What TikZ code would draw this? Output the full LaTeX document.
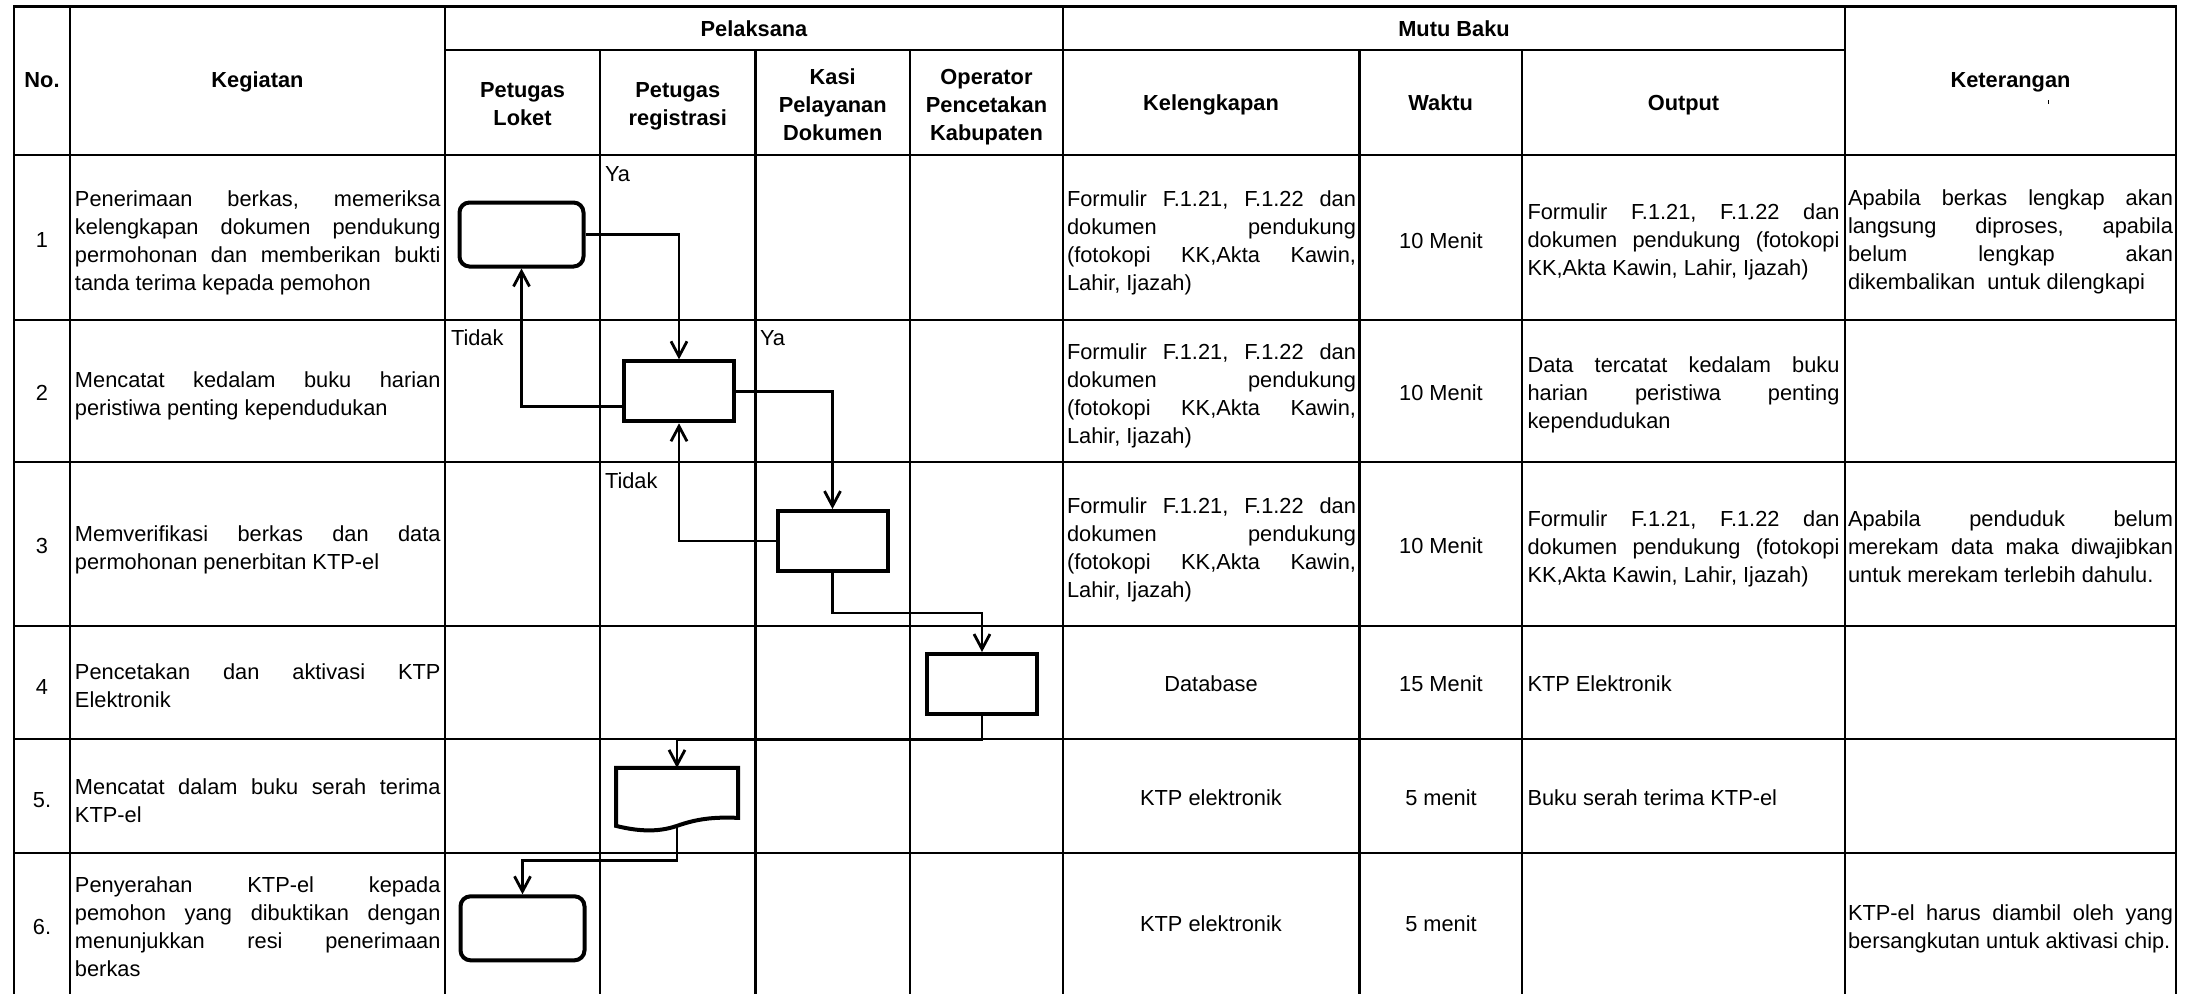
\documentclass[tikz,border=0pt]{standalone}
\usepackage{fontspec}
\setmainfont{Liberation Sans}
\usetikzlibrary{arrows.meta,calc}
\setlength{\parindent}{0pt}
\frenchspacing
\newcommand\txtsize{\fontsize{10.9}{14}\selectfont}
% a full-width line whose spaces are stretched (justified)
\newcommand\JL[2]{\makebox[#1][s]{\spaceskip=0pt\xspaceskip=0pt\strut #2}\\}
% a last line, set at its natural width
\newcommand\LL[1]{\mbox{\spaceskip=0pt\xspaceskip=0pt\strut #1}}
\newlength\wk \setlength\wk{182.75pt}
\newlength\wl \setlength\wl{144.5pt}
\newlength\wo \setlength\wo{156pt}
\newlength\wt \setlength\wt{162.5pt}

\begin{document}
\begin{tikzpicture}[x=0.5pt,y=-0.5pt,
  every node/.style={inner sep=0pt, outer sep=0pt, font=\txtsize},
  rule/.style={line width=1.1pt, line cap=rect},
  head/.style={font=\txtsize\bfseries, align=center},
  cell/.style={anchor=west, text width=#1, align=left},
  mid/.style={anchor=center},
  lbl/.style={anchor=base west},
  rbox/.style={draw, line width=2pt, outer sep=1pt, rounded corners=5pt,
               minimum width=62pt, minimum height=32pt},
  pbox/.style={draw, line width=2pt, outer sep=1pt,
               minimum width=55pt, minimum height=30pt},
  docbox/.style={minimum width=61pt, minimum height=29pt},
  flow/.style={line width=1.4pt, -{Straight Barb[length=7.5pt,width=8pt]}}
]
\fill[white] (0,0) rectangle (2197,993);
\useasboundingbox (0,0) rectangle (2197,993);

% ---- table rules ----
\draw[rule] (14,6.5) -- (2176,6.5);
\draw[rule] (445,50) -- (1845,50);
\foreach \yy in {155,320,462,626,739,853}
  \draw[rule] (14,\yy) -- (2176,\yy);
\foreach \xx in {14,70,445,1063,1845,2176}
  \draw[rule] (\xx,6.5) -- (\xx,993);
\foreach \xx in {600,755.5,910,1359.5,1522}
  \draw[rule] (\xx,50) -- (\xx,993);
\fill (2047.5,100) rectangle (2049,104);

% ---- header ----
\node[head] (hNo)   at (42,82)     {\strut No.};
\node[head] (hKeg)  at (257.5,82)  {\strut Kegiatan};
\node[head] (hPel)  at (754,30.5)  {\strut Pelaksana};
\node[head] (hMutu) at (1454,30.5) {\strut Mutu Baku};
\node[head] (hKet)  at (2010.5,82) {\strut Keterangan};
\node[head] (hLok)  at (522.5,106) {\strut Petugas\\\strut Loket};
\node[head] (hReg)  at (677.75,106) {\strut Petugas\\\strut registrasi};
\node[head] (hKasi) at (832.75,107) {\strut Kasi\\\strut Pelayanan\\\strut Dokumen};
\node[head] (hOpr)  at (986.5,107) {\strut Operator\\\strut Pencetakan\\\strut Kabupaten};
\node[head] (hKel)  at (1211,105)  {\strut Kelengkapan};
\node[head] (hWkt)  at (1440.75,105) {\strut Waktu};
\node[head] (hOut)  at (1683.5,105) {\strut Output};

% ---- row numbers ----
\node[mid] (n1) at (42,242)   {\strut 1};
\node[mid] (n2) at (42,395)   {\strut 2};
\node[mid] (n3) at (42,548)   {\strut 3};
\node[mid] (n4) at (42,688.5) {\strut 4};
\node[mid] (n5) at (42,802)   {\strut 5.};
\node[mid] (n6) at (42,928.5) {\strut 6.};

% ---- kegiatan ----
\node[cell=\wk] (k1) at (75,243) {\JL\wk{Penerimaan berkas, memeriksa}\JL\wk{kelengkapan dokumen pendukung}\JL\wk{permohonan dan memberikan bukti}\LL{tanda terima kepada pemohon}};
\node[cell=\wk] (k2) at (75,396) {\JL\wk{Mencatat kedalam buku harian}\LL{peristiwa penting kependudukan}};
\node[cell=\wk] (k3) at (75,550) {\JL\wk{Memverifikasi berkas dan data}\LL{permohonan penerbitan KTP-el}};
\node[cell=\wk] (k4) at (75,688) {\JL\wk{Pencetakan dan aktivasi KTP}\LL{Elektronik}};
\node[cell=\wk] (k5) at (75,802.5) {\JL\wk{Mencatat dalam buku serah terima}\LL{KTP-el}};
\node[cell=\wk] (k6) at (75,929) {\JL\wk{Penyerahan KTP-el kepada}\JL\wk{pemohon yang dibuktikan dengan}\JL\wk{menunjukkan resi penerimaan}\LL{berkas}};

% ---- kelengkapan ----
\node[cell=\wl] (l1) at (1067,243) {\JL\wl{Formulir F.1.21, F.1.22 dan}\JL\wl{dokumen pendukung}\JL\wl{(fotokopi KK,Akta Kawin,}\LL{Lahir, Ijazah)}};
\node[cell=\wl] (l2) at (1067,396) {\JL\wl{Formulir F.1.21, F.1.22 dan}\JL\wl{dokumen pendukung}\JL\wl{(fotokopi KK,Akta Kawin,}\LL{Lahir, Ijazah)}};
\node[cell=\wl] (l3) at (1067,550) {\JL\wl{Formulir F.1.21, F.1.22 dan}\JL\wl{dokumen pendukung}\JL\wl{(fotokopi KK,Akta Kawin,}\LL{Lahir, Ijazah)}};
\node[mid] (l4) at (1211,686)   {\strut Database};
\node[mid] (l5) at (1211,800.3) {\strut KTP elektronik};
\node[mid] (l6) at (1211,926)   {\strut KTP elektronik};

% ---- waktu ----
\node[mid] (w1) at (1441,243)   {\strut 10 Menit};
\node[mid] (w2) at (1441,395)   {\strut 10 Menit};
\node[mid] (w3) at (1441,548)   {\strut 10 Menit};
\node[mid] (w4) at (1441,686)   {\strut 15 Menit};
\node[mid] (w5) at (1441,800.3) {\strut 5 menit};
\node[mid] (w6) at (1441,926)   {\strut 5 menit};

% ---- output ----
\node[cell=\wo] (o1) at (1527.5,242) {\JL\wo{Formulir F.1.21, F.1.22 dan}\JL\wo{dokumen pendukung (fotokopi}\LL{KK,Akta Kawin, Lahir, Ijazah)}};
\node[cell=\wo] (o2) at (1527.5,395) {\JL\wo{Data tercatat kedalam buku}\JL\wo{harian peristiwa penting}\LL{kependudukan}};
\node[cell=\wo] (o3) at (1527.5,548.5) {\JL\wo{Formulir F.1.21, F.1.22 dan}\JL\wo{dokumen pendukung (fotokopi}\LL{KK,Akta Kawin, Lahir, Ijazah)}};
\node[anchor=west] (o4) at (1527.5,686)   {\strut KTP Elektronik};
\node[anchor=west] (o5) at (1527.5,800.3) {\strut Buku serah terima KTP-el};

% ---- keterangan ----
\node[cell=\wt] (t1) at (1848,241.5) {\JL\wt{Apabila berkas lengkap akan}\JL\wt{langsung diproses, apabila}\JL\wt{belum lengkap akan}\LL{dikembalikan\ \ untuk dilengkapi}};
\node[cell=\wt] (t3) at (1848,548.5) {\JL\wt{Apabila penduduk belum}\JL\wt{merekam data maka diwajibkan}\LL{untuk merekam terlebih dahulu.}};
\node[cell=\wt] (t6) at (1848,928.5) {\JL\wt{KTP-el harus diambil oleh yang}\LL{bersangkutan untuk aktivasi chip.}};

% ---- flow symbols ----
\node[rbox] (s1) at (521.5,234.5) {};
\node[pbox] (s2) at (679,391.3) {};
\node[pbox] (s3) at (832.5,541) {};
\node[pbox] (s4) at (982,684) {};
\node[docbox] (s5) at (677,796.85) {};
\node[rbox] (s6) at (522.5,928.3) {};
\draw[line width=2pt] (s5.south west) -- (s5.north west) -- (s5.north east)
  -- ($(s5.south east)+(0,-8)$)
  .. controls ($(s5.south east)+(-25,-9)$) and ($(s5.south)+(20,-7)$) .. (s5.south)
  .. controls ($(s5.south)+(-20,7)$) and ($(s5.south west)+(20,5)$) .. (s5.south west)
  -- cycle;

% ---- decision labels ----
\node[lbl] (ya1)  at (605,181.7) {Ya};
\node[lbl] (td1)  at (451,345)   {Tidak};
\node[lbl] (ya2)  at (760,345)   {Ya};
\node[lbl] (td2)  at (605,488)   {Tidak};

% ---- connectors ----
\draw[flow] (s1.east) -| (s2.north);
\draw[flow] ($(s2.west)+(0,15.4)$) -| (s1.south);
\draw[flow] (s2.east) -| (s3.north);
\draw[flow] (s3.west) -| (s2.south);
\draw[flow] (s3.south) -- ++(0,40) -| (s4.north);
\draw[flow] (s4.south) -- ++(0,24) -| (s5.north);
\draw[flow] (s5.south) -- ++(0,35) -| (s6.north);
\end{tikzpicture}
\end{document}
